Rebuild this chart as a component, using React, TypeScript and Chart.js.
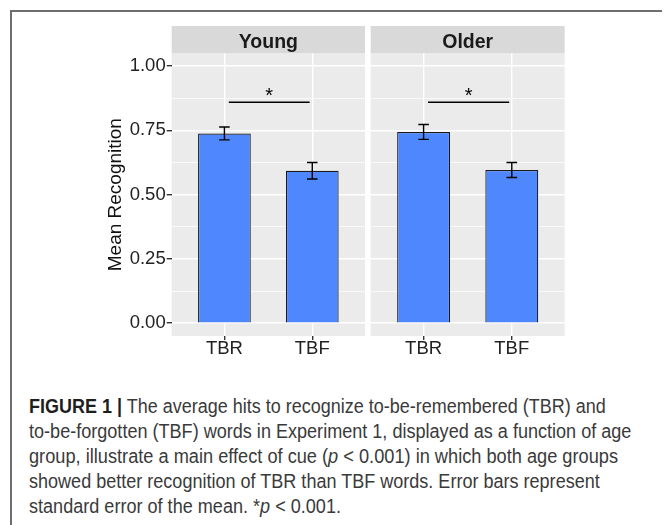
import React, { useEffect, useRef } from 'react';
import { Chart, registerables } from 'chart.js';

Chart.register(...registerables);

// ---------------- data ----------------
const groups = ['Young', 'Older'];
const cues = ['TBR', 'TBF'];
const youngMeans = [0.738, 0.593];
const youngSE = [0.025, 0.032];
const olderMeans = [0.744, 0.596];
const olderSE = [0.029, 0.029];
const yMajorTicks = [0, 0.25, 0.5, 0.75, 1.0];
const yMinorTicks = [0.125, 0.375, 0.625, 0.875];
const sigLineY = 0.86;
const sigStarY = 0.905;
const sigFromX = 1.05;
const sigToX = 1.97;
const sigStarX = 1.51;
const sigLabel = '*';
const yTitle = 'Mean Recognition';

type Seg = { t: string; b?: boolean; i?: boolean };
const captionLines: Seg[][] = [
  [{ t: 'FIGURE 1 |', b: true }, { t: ' The average hits to recognize to-be-remembered (TBR) and' }],
  [{ t: 'to-be-forgotten (TBF) words in Experiment 1, displayed as a function of age' }],
  [{ t: 'group, illustrate a main effect of cue (' }, { t: 'p', i: true }, { t: ' < 0.001) in which both age groups' }],
  [{ t: 'showed better recognition of TBR than TBF words. Error bars represent' }],
  [{ t: 'standard error of the mean. *' }, { t: 'p', i: true }, { t: ' < 0.001.' }],
];
const captionTargetWidths = [577, 602.4, 589, 571.4, 0];

// ---------------- styles ----------------
const FONT = '"Liberation Sans", Arial, Helvetica, sans-serif';
const BAR_FILL = '#4F87FF';
const PANEL_BG = '#EBEBEB';
const STRIP_BG = '#D9D9D9';
const TICK_TEXT = '#222';

const isMajor = (v: number) => yMajorTicks.some((m) => Math.abs(m - v) < 1e-9);

const facetPlugin = {
  id: 'facet',
  beforeDraw(chart: any, _args: any, opts: any) {
    const { ctx, chartArea: a } = chart;
    ctx.save();
    ctx.fillStyle = PANEL_BG;
    ctx.fillRect(a.left, a.top, a.right - a.left, a.bottom - a.top);
    const stripH = 27.3;
    ctx.fillStyle = STRIP_BG;
    ctx.fillRect(a.left, a.top - stripH, a.right - a.left, stripH);
    ctx.fillStyle = '#1A1A1A';
    ctx.font = `bold 19.5px ${FONT}`;
    ctx.textAlign = 'center';
    ctx.textBaseline = 'alphabetic';
    ctx.fillText(opts.label, (a.left + a.right) / 2, a.top - 5.6);
    ctx.restore();
  },
  afterDatasetsDraw(chart: any, _args: any, opts: any) {
    const { ctx } = chart;
    const x = chart.scales.x;
    const y = chart.scales.y;
    ctx.save();
    ctx.strokeStyle = '#000';
    ctx.lineWidth = 1.4;
    const means: number[] = opts.means;
    const se: number[] = opts.se;
    means.forEach((m: number, i: number) => {
      const cx = x.getPixelForValue(i + 1);
      const xl = x.getPixelForValue(i + 1 - 0.06);
      const xr = x.getPixelForValue(i + 1 + 0.06);
      const yt = y.getPixelForValue(m + se[i]);
      const yb = y.getPixelForValue(m - se[i]);
      ctx.beginPath();
      ctx.moveTo(cx, yt);
      ctx.lineTo(cx, yb);
      ctx.moveTo(xl, yt);
      ctx.lineTo(xr, yt);
      ctx.moveTo(xl, yb);
      ctx.lineTo(xr, yb);
      ctx.stroke();
    });
    ctx.lineWidth = 1.5;
    const ys = y.getPixelForValue(sigLineY);
    ctx.beginPath();
    ctx.moveTo(x.getPixelForValue(sigFromX), ys);
    ctx.lineTo(x.getPixelForValue(sigToX), ys);
    ctx.stroke();
    ctx.fillStyle = '#000';
    ctx.font = `20px ${FONT}`;
    ctx.textAlign = 'center';
    ctx.textBaseline = 'alphabetic';
    ctx.fillText(sigLabel, x.getPixelForValue(sigStarX), y.getPixelForValue(sigStarY) + 0.575 * 20);
    ctx.restore();
  },
};

function makeConfig(label: string, means: number[], se: number[], showY: boolean, pad: any, yWidth: number): any {
  return {
    type: 'bar',
    data: {
      datasets: [
        {
          data: means.map((m, i) => ({ x: i + 1, y: m })),
          backgroundColor: BAR_FILL,
          borderColor: '#1A1A1A',
          borderWidth: 1.2,
          barPercentage: 0.6,
          categoryPercentage: 1,
        },
      ],
    },
    options: {
      animation: false,
      responsive: false,
      devicePixelRatio: 1,
      events: [],
      layout: { padding: pad },
      plugins: {
        legend: { display: false },
        tooltip: { enabled: false },
        facet: { label, means, se },
      },
      scales: {
        x: {
          type: 'linear',
          min: 0.4,
          max: 2.6,
          bounds: 'data',
          offset: false,
          afterBuildTicks: (s: any) => {
            s.ticks = cues.map((_, i) => ({ value: i + 1 }));
          },
          afterFit: (s: any) => {
            s.height = 36;
          },
          ticks: {
            autoSkip: false,
            maxRotation: 0,
            padding: 0,
            color: TICK_TEXT,
            font: { family: FONT, size: 18.5, lineHeight: 1 },
            callback: (v: number) => cues[Math.round(v) - 1],
          },
          grid: { offset: false, color: '#FFFFFF', lineWidth: 1.4, tickColor: '#333', tickLength: 4, drawTicks: true },
          border: { display: false },
        },
        y: {
          type: 'linear',
          min: -0.05,
          max: 1.05,
          bounds: 'data',
          afterBuildTicks: (s: any) => {
            s.ticks = [...yMajorTicks, ...yMinorTicks].sort((a, b) => a - b).map((v) => ({ value: v }));
          },
          afterFit: (s: any) => {
            s.width = yWidth;
          },
          ticks: {
            display: showY,
            autoSkip: false,
            padding: 1,
            color: TICK_TEXT,
            font: { family: FONT, size: 18.5 },
            callback: (v: number) => (isMajor(v) ? v.toFixed(2) : ''),
          },
          grid: {
            color: '#FFFFFF',
            lineWidth: (c: any) => (c.tick && isMajor(c.tick.value) ? 1.4 : 0.7),
            tickColor: (c: any) => (c.tick && isMajor(c.tick.value) ? '#333' : 'rgba(0,0,0,0)'),
            tickLength: 5,
            drawTicks: showY,
          },
          border: { display: false },
          title: {
            display: showY,
            text: yTitle,
            color: '#111',
            font: { family: FONT, size: 19 },
            padding: { top: 92.6, bottom: 0 },
          },
        },
      },
    },
    plugins: [facetPlugin],
  };
}

function measureLine(segs: Seg[], size: number): number {
  const c = document.createElement('canvas').getContext('2d');
  if (!c) return 1;
  let w = 0;
  for (const s of segs) {
    c.font = `${s.i ? 'italic ' : ''}${s.b ? 'bold ' : ''}${size}px ${FONT}`;
    w += c.measureText(s.t).width;
  }
  return w;
}

export default function App() {
  const refA = useRef<HTMLCanvasElement | null>(null);
  const refB = useRef<HTMLCanvasElement | null>(null);

  useEffect(() => {
    const a = new Chart(refA.current as HTMLCanvasElement, makeConfig(groups[0], youngMeans, youngSE, true, { left: 0, right: 3, top: 41.3, bottom: 0 }, 159.7));
    const b = new Chart(refB.current as HTMLCanvasElement, makeConfig(groups[1], olderMeans, olderSE, false, { left: 2.7, right: 102.3, top: 41.3, bottom: 0 }, 0));
    return () => {
      a.destroy();
      b.destroy();
    };
  }, []);

  const capSize = 20;
  const scales = captionLines.map((segs, i) => {
    const t = captionTargetWidths[i];
    if (!t) return 0;
    return t / measureLine(segs, capSize);
  });
  const valid = scales.filter((s) => s > 0);
  const avg = valid.reduce((p, q) => p + q, 0) / valid.length;

  return (
    <div style={{ paddingLeft: 2, paddingTop: 2 }}>
      <style>{`html,body{overflow:hidden;}`}</style>
      <div
        style={{
          position: 'relative',
          width: 659,
          height: 540,
          boxSizing: 'border-box',
          borderTop: '2px solid #6e6e6e',
          borderLeft: '2px solid #6e6e6e',
          borderRight: '2px solid #6e6e6e',
          background: '#fff',
        }}
      >
        <canvas ref={refA} width={356} height={360} style={{ position: 'absolute', left: 0, top: 0, width: 356, height: 360 }} />
        <canvas ref={refB} width={299} height={360} style={{ position: 'absolute', left: 356, top: 0, width: 299, height: 360 }} />
        <div style={{ position: 'absolute', left: 17.3, top: 381.9, fontFamily: FONT, fontSize: capSize, color: '#3a3a3a' }}>
          {captionLines.map((segs, i) => (
            <div
              key={i}
              style={{
                height: 25,
                lineHeight: '25px',
                whiteSpace: 'pre',
                transform: `scaleX(${scales[i] || avg})`,
                transformOrigin: 'left center',
              }}
            >
              {segs.map((s, j) => (
                <span
                  key={j}
                  style={{
                    fontWeight: s.b ? 'bold' : 'normal',
                    fontStyle: s.i ? 'italic' : 'normal',
                    color: s.b ? '#1e1e1e' : undefined,
                  }}
                >
                  {s.t}
                </span>
              ))}
            </div>
          ))}
        </div>
      </div>
    </div>
  );
}
